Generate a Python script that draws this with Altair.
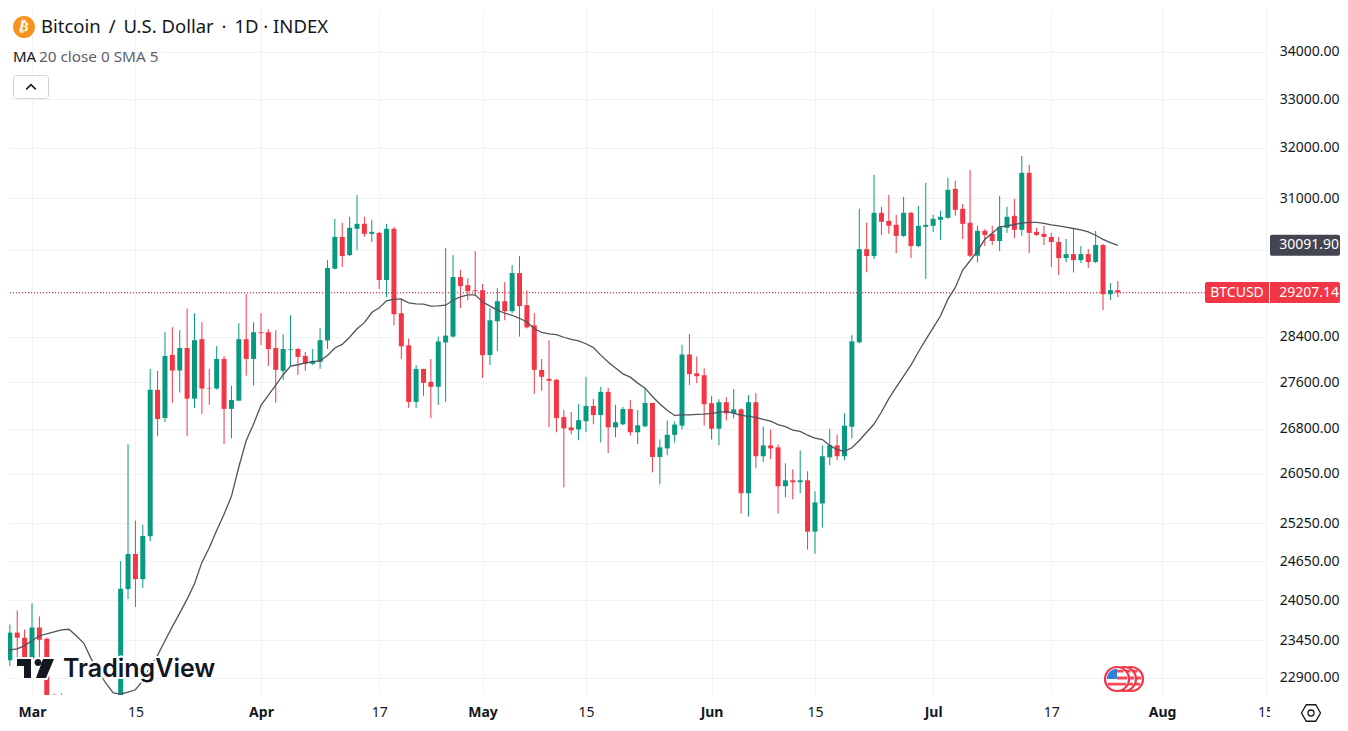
import altair as alt
import pandas as pd

# --- values (USD) ---
opens = [23154,23561,23485,23178,23637,23470,22360,22350,22430,22410,22200,21700,20360,20190,20630,
22150,24218,24761,24371,25040,27466,26982,28079,27804,28201,27314,28359,27500,27489,28008,27138,27278,28359,28008,
28484,28484,28201,27798,28172,28184,28061,27921,27956,28336,29650,30252,29906,30407,30503,30310,30329,29438,30407,
28828,28249,27258,27832,27606,27519,28301,28406,29494,29344,29250,29250,28076,28682,29048,28865,29569,28975,28608,
27815,27658,27640,26997,26823,26789,26927,27188,27032,27432,26823,26875,27136,26740,26840,27240,26326,26469,26696,
26852,28087,27756,27721,27235,26800,27252,27061,27130,25729,27252,26338,26519,26486,25843,25941,25909,25941,25113,
25565,26320,26519,26338,26833,28303,30019,29888,30716,30561,30484,30271,30716,30077,30445,30465,30581,30620,31185,
30794,30523,29894,30368,30310,30174,30426,30658,30387,31502,30348,30310,30252,30155,29850,29925,29812,29925,29775,
30097,29177,29251]
highs = [23682,23894,23606,24000,23803,23485,22670,22670,22600,22560,22250,21800,20360,20800,22200,
24650,26536,25288,25224,27833,27798,28484,28574,28520,28916,28826,28664,27833,28236,28061,27536,28646,29180,28664,
28826,28538,28520,28447,28790,28201,28130,28184,28556,29812,30600,30523,30639,31066,30639,30581,30349,30503,30445,
29103,28371,27900,27832,28006,28406,30040,29906,29625,29475,29981,29363,28920,29288,29400,29719,29888,29250,28828,
28006,28336,27658,27119,27084,27223,27693,27310,27519,27501,27206,27170,27293,27119,27501,27240,26618,26939,26922,
28261,28452,28052,27843,27357,27304,27339,27478,27148,27374,27409,26835,26785,26535,26221,26121,26436,26088,25761,
26519,26800,26701,27061,28430,30794,30523,31462,30832,31066,30677,31026,30735,30852,31304,30677,30755,31403,31343,
30890,31561,30465,30406,30465,31046,30832,30987,31838,31660,30426,30465,30329,30252,30213,30406,30077,30019,30368,
30116,29382,29419]
lows = [23068,23200,23150,23150,23200,22270,22000,22200,22300,21900,21600,20050,19550,20000,20450,
21900,24065,23945,24233,24960,26673,26912,27243,27419,26673,27150,27051,27208,27471,26541,26640,27278,27712,27542,
28254,27886,27243,27640,27869,27728,27798,27898,27833,28185,29638,29682,29888,30000,30252,30155,29270,29121,28607,
28006,27153,27153,27362,26980,27206,27258,28388,28920,29066,29140,27675,27900,28145,28700,28828,28406,28553,27397,
27449,26823,26740,25825,26705,26605,26740,26875,26570,26390,26656,26858,26683,26541,26823,26072,25876,26354,26569,
26785,27548,27582,26852,26618,26519,26939,26974,25402,25353,26138,26238,26288,25402,25663,25630,25729,24829,24766,
25176,26188,26271,26271,26637,28285,29583,29831,30290,30310,29944,30252,29850,30058,29457,30348,30194,30600,30658,
30213,29869,29769,30077,30097,29981,30329,30226,30271,29944,30271,30097,29680,29531,29769,29581,29757,29663,29757,
28885,29067,29122]
closes = [23561,23485,23178,23637,23455,22360,22350,22430,22410,22200,21700,20360,20190,20630,22150,
24223,24761,24371,25045,27466,26964,28061,27804,28201,27314,28342,27489,27490,28008,27138,27290,28359,28008,28484,
28466,28184,27816,28184,28184,28044,27921,27974,28342,29663,30252,29888,30426,30503,30310,30349,29438,30407,28810,
28232,27258,27832,27588,27519,28319,28424,29494,29326,29232,29232,28075,28700,29048,28865,29569,28957,28572,27815,
27693,27623,26980,26806,26772,26945,27188,27032,27432,26823,26910,27136,26740,26858,27240,26326,26486,26698,26870,
28087,27739,27704,27217,26800,27252,27061,27130,25729,27252,26338,26519,26469,25843,25941,25909,25941,25113,25582,
26338,26519,26338,26852,28320,30019,29888,30716,30542,30465,30271,30716,30077,30465,30484,30600,30639,31165,30774,
30503,29894,30368,30290,30174,30445,30639,30387,31502,30329,30290,30252,30155,29850,29925,29812,29925,29775,30097,
29177,29251,29207.14]
ma_values = [23273,23307,23321,23369,23440,23515,23541,23571,23601,23611,23515,23407,23178,22986,22820,22680,22665,
22693,22726,22858,23058,23225,23440,23650,23853,24065,24300,24630,24860,25130,25390,25680,26160,26600,26880,27200,
27375,27550,27730,27880,27905,27940,27960,27975,28070,28203,28267,28394,28547,28657,28840,28926,29054,29085,29085,
29018,28999,28993,28957,28963,28975,29066,29128,29164,29164,29036,28957,28884,28828,28791,28736,28669,28547,28480,
28455,28443,28394,28354,28330,28278,28209,28075,27954,27849,27745,27687,27583,27496,27351,27223,27113,27026,27037,
27037,27043,27049,27061,27078,27096,27066,27026,27009,26991,26957,26928,26870,26835,26778,26756,26690,26640,26618,
26519,26447,26420,26480,26602,26740,26880,27084,27315,27513,27705,27900,28130,28350,28564,28782,29086,29301,29625,
29800,29987,30206,30323,30445,30465,30490,30516,30529,30529,30510,30484,30465,30439,30413,30387,30348,30284,30206,
30142,30091.90]
y_ticks = [22900,23450,24050,24650,25250,26050,26800,27600,28400,29200,30000,31000,32000,33000,34000]
hidden_y_ticks = [29200,30000]
x_ticks = [(3,1),(3,15),(4,1),(4,17),(5,1),(5,15),(6,1),(6,15),(7,1),(7,17),(8,1),(8,15)]
last_price = 29207.14
ma_last = 30091.90
title_text = "Bitcoin\u2009 / \u2009U.S. Dollar\u2009 · \u20091D · INDEX"
indicator_name = "MA"
indicator_args = "20 close 0 SMA 5"

GREEN, RED, INK, GRID = "#089981", "#f23645", "#131722", "#f3f3f6"
FONT = "Noto Sans"

candles = pd.DataFrame({
    "date": pd.date_range("2023-02-26", periods=len(opens), freq="D").strftime("%Y-%m-%d"),
    "open": opens, "high": highs, "low": lows, "close": closes,
})
candles["dir"] = ["up" if c >= o else "down" for o, c in zip(opens, closes)]
ma = pd.DataFrame({
    "date": pd.date_range("2023-02-25", periods=len(ma_values), freq="D").strftime("%Y-%m-%d"),
    "ma": ma_values,
})

W, H = 1260, 687
xscale = alt.Scale(type="utc", padding=0, domain=[
    alt.DateTime(year=2023, month=2, date=25, hours=18, utc=True),
    alt.DateTime(year=2023, month=8, date=15, hours=8, utc=True)])
yscale = alt.Scale(type="log", domain=[22651, 34958], nice=False, padding=0)
cscale = alt.Scale(domain=["up", "down"], range=[GREEN, RED])

hidden_test = " || ".join(f"datum.value == {v}" for v in hidden_y_ticks)
x_axis = alt.Axis(
    values=[alt.DateTime(year=2023, month=m, date=d, utc=True) for m, d in x_ticks],
    labelExpr="utcdate(datum.value) == 1 ? utcFormat(datum.value, '%b') : utcFormat(datum.value, '%-d')",
    labelFontWeight={"condition": {"test": "utcdate(datum.value) == 1", "value": "bold"}, "value": "normal"},
    title=None, domain=False, ticks=False, tickSize=0, grid=True, gridColor=GRID, labelPadding=10,
    labelFont=FONT, labelFontSize=14, labelColor=INK, labelFlush=False, labelOverlap=False)
y_axis = alt.Axis(
    values=y_ticks, orient="right",
    labelExpr=f"({hidden_test}) ? '' : format(datum.value, '.2f')",
    title=None, domain=False, ticks=False, tickSize=0, grid=True, gridColor=GRID,
    labelAlign="right", labelPadding=71, labelFont=FONT, labelFontSize=14, labelColor=INK, labelOverlap=False)


def px(x):
    return x - 8


def text(s, x, y, size=14, color=INK, align="left", font=FONT, weight="normal", **kw):
    return alt.Chart(alt.Data(values=[{}])).mark_text(
        align=align, baseline="middle", fontSize=size, color=color, font=font, fontWeight=weight, **kw
    ).encode(x=alt.value(px(x)), y=alt.value(px(y)), text=alt.value(s))


def symbol(path, x, y, half, **kw):
    return alt.Chart(alt.Data(values=[{}])).mark_point(
        shape=path, size=(2 * half) ** 2, **kw
    ).encode(x=alt.value(px(x)), y=alt.value(px(y)))


def box(x1, x2, y1, y2, **kw):
    return alt.Chart(alt.Data(values=[{}])).mark_rect(**kw).encode(
        x=alt.value(px(x1)), x2=alt.value(px(x2)), y=alt.value(px(y1)), y2=alt.value(px(y2)))


price_df = pd.DataFrame({"p": [last_price]})
ma_df = pd.DataFrame({"p": [ma_last]})
Xd = alt.X("date:T", scale=xscale, axis=x_axis)
Yp = alt.Y("p:Q", scale=yscale, axis=y_axis)

wicks = alt.Chart(candles).mark_rule(strokeWidth=1, clip=True).encode(
    x=Xd,
    y=alt.Y("low:Q", scale=yscale, axis=y_axis),
    y2="high:Q",
    color=alt.Color("dir:N", scale=cscale, legend=None))
bodies = alt.Chart(candles).mark_bar(size=5, clip=True).encode(
    x=Xd,
    y=alt.Y("open:Q", scale=yscale, axis=y_axis),
    y2="close:Q",
    color=alt.Color("dir:N", scale=cscale, legend=None))
ma_line = alt.Chart(ma).mark_line(color="#50535e", strokeWidth=1.3, clip=True).encode(
    x=Xd,
    y=alt.Y("ma:Q", scale=yscale, axis=y_axis))
price_line = alt.Chart(price_df).mark_rule(color=RED, strokeWidth=1.2, strokeDash=[1, 2]).encode(y=Yp)

dark_tag = alt.Chart(ma_df).mark_bar(size=21, cornerRadius=2, color="#434651", orient="horizontal").encode(
    x=alt.value(px(1270)), x2=alt.value(px(1340)), y=Yp)
red_tag = alt.Chart(price_df).mark_bar(size=21, cornerRadius=2, color=RED, orient="horizontal").encode(
    x=alt.value(px(1205)), x2=alt.value(px(1340)), y=Yp)
tag_split = alt.Chart(price_df).mark_bar(size=21, color="white", orient="horizontal").encode(
    x=alt.value(px(1269)), x2=alt.value(px(1270)), y=Yp)
dark_text = alt.Chart(ma_df).mark_text(align="right", baseline="middle", fontSize=14, font=FONT, color="white").encode(
    x=alt.value(px(1339)), y=Yp, text=alt.Text("p:Q", format=".2f"))
red_text = alt.Chart(price_df).mark_text(align="right", baseline="middle", fontSize=14, font=FONT, color="white").encode(
    x=alt.value(px(1339)), y=Yp, text=alt.Text("p:Q", format=".2f"))
sym_text = text("BTCUSD", 1237, 292.5, color="white", align="center")

# cover for the Aug-15 label running under the price scale
cover = box(1270, 1290, 696, 722, fill="white")

logo_mark = ("M-.95,-.475 L-.25,-.475 L-.25,.475 L-.6,.475 L-.6,-.125 L-.95,-.125 Z "
             "M.35,-.475 L.9,-.475 L.5,.475 L0,.475 Z "
             "M-.075,-.3 a.175,.175 0 1,0 .35,0 a.175,.175 0 1,0 -.35,0 Z")
logo_halo = symbol(logo_mark, 36, 668.5, 20, filled=True, fill="white", stroke="white", strokeWidth=4, opacity=1)
logo_icon = symbol(logo_mark, 36, 668.5, 20, filled=True, fill=INK, opacity=1)
logo_text_halo = text("TradingView", 63, 669, size=25, color="white", font="Inter", weight=600,
                      stroke="white", strokeWidth=4)
logo_text = text("TradingView", 63, 669, size=25, font="Inter", weight=600)

coin = alt.Chart(alt.Data(values=[{}])).mark_circle(size=480, color="#f7931a", opacity=1).encode(
    x=alt.value(px(24)), y=alt.value(px(27)))
coin_text = text("₿", 24, 27, size=14, color="white", align="center", font="DejaVu Sans", weight="bold", angle=12)
title = text(title_text, 41, 27, size=18.5)
ind_a = text(indicator_name, 13, 57, size=15)
ind_b = text(indicator_args, 39, 57, size=15.3, color="#5d606b")
btn = box(13.5, 48.5, 75.5, 98.5, fill="white", stroke="#d1d4dc", strokeWidth=1, cornerRadius=3)
chevron = symbol("M-.8,.4 L0,-.4 L.8,.4", 31, 87, 6, filled=False, stroke=INK, strokeWidth=1.5, opacity=1)

stripes = "M0,-.78 H.55 V-.55 H0 Z M0,-.2 H.85 V.05 H0 Z M-.75,.32 H.75 V.55 H-.75 Z"
canton = "M-.85,0 A.85,.85 0 0 1 0,-.85 L0,0 Z"


def flag(x, front=False):
    parts = [
        alt.Chart(alt.Data(values=[{}])).mark_point(
            shape="circle", size=576, filled=True, fill="white", stroke=RED, strokeWidth=2.2, opacity=1
        ).encode(x=alt.value(px(x)), y=alt.value(px(679))),
        symbol(stripes, x, 679, 12, filled=True, fill=RED, opacity=0.9),
    ]
    if front:
        parts.append(symbol(canton, x, 679, 12, filled=True, fill="#2f80d8", opacity=1))
    return parts


gear = symbol("M-.5,-.87 L.5,-.87 L1,0 L.5,.87 L-.5,.87 L-1,0 Z", 1311, 713, 9.5, filled=False,
              stroke=INK, strokeWidth=1.3, opacity=1)
gear_hole = symbol("circle", 1311, 713, 3, filled=False, stroke=INK, strokeWidth=1.3, opacity=1)

chart = alt.layer(
    wicks, price_line, bodies, ma_line,
    *flag(1131), *flag(1124), *flag(1117, front=True),
    logo_halo, logo_text_halo, logo_icon, logo_text,
    cover, gear, gear_hole,
    red_tag, tag_split, dark_tag, dark_text, red_text, sym_text,
    coin, coin_text, title, ind_a, ind_b, btn, chevron,
).resolve_scale(x="shared", y="shared").properties(
    width=W, height=H, background="white",
    autosize=alt.AutoSizeParams(type="none"),
    padding={"left": 0, "top": 0, "right": 72, "bottom": 30},
).configure_view(stroke=None)

chart.save("out.html", embed_options={"renderer": "svg", "actions": False})
